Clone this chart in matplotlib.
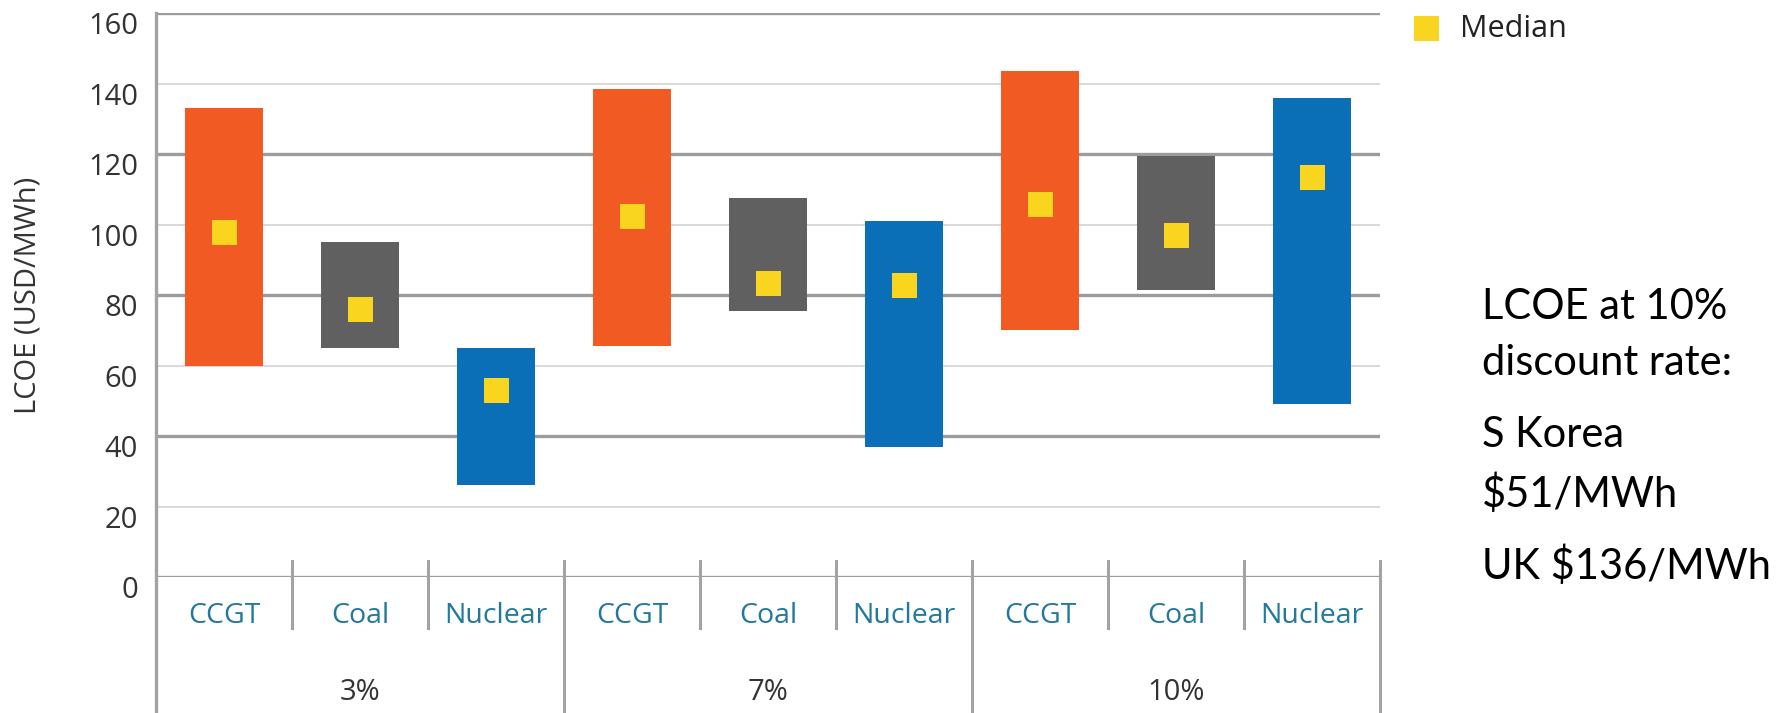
import matplotlib
matplotlib.use("Agg")
import matplotlib.pyplot as plt
import matplotlib.transforms as mtransforms
from matplotlib.lines import Line2D

# ---- data ----
rates = ["3%", "7%", "10%"]
techs = ["CCGT", "Coal", "Nuclear"]
low = [60, 65, 26, 65.5, 75.5, 37, 70, 81.5, 49]
high = [133, 95, 65, 138.5, 107.5, 101, 143.5, 119.5, 136]
median = [98, 76, 53, 102.5, 83.5, 83, 106, 97, 113.5]
yticks = [0, 20, 40, 60, 80, 100, 120, 140, 160]
notes = ["LCOE at 10%", "discount rate:", "S Korea", "$51/MWh", "UK $136/MWh"]

colors_by_tech = {"CCGT": "#F15A22", "Coal": "#606060", "Nuclear": "#0A6FB7"}
median_color = "#F9D51F"

plt.rcParams["font.family"] = ["Open Sans", "DejaVu Sans"]

W, H = 1785, 713
fig = plt.figure(figsize=(W / 100, H / 100), dpi=100)
ax_left, ax_right = 156, 1380
ax_top, ax_bot = 13.3, 577
ax = fig.add_axes([ax_left / W, 1 - ax_bot / H, (ax_right - ax_left) / W, (ax_bot - ax_top) / H])

n = len(rates) * len(techs)
xs = list(range(n))
cats = [t for r in rates for t in techs]
bar_colors = [colors_by_tech[c] for c in cats]

ax.set_xlim(-0.5, n - 0.5)
ax.set_ylim(0, 160)

# gridlines
for y in yticks:
    if y % 40 == 0:
        ax.axhline(y, color="#9c9c9c", lw=2.4, zorder=1)
    else:
        ax.axhline(y, color="#d6d6d6", lw=1.3, zorder=1)

heights = [h - l for h, l in zip(high, low)]
ax.bar(xs, heights, bottom=low, width=0.57, color=bar_colors, zorder=3)
ax.plot(xs, median, ls="", marker="s", markersize=18, color=median_color,
        markeredgewidth=0, zorder=4)

for s in ax.spines.values():
    s.set_visible(False)
ax.set_xticks([])
ax.set_yticks(yticks)
ax.set_yticklabels([str(v) for v in yticks], fontsize=21, color="#333333")
ax.tick_params(axis="y", length=0, pad=13)
off = mtransforms.ScaledTranslation(0, -10 / 100, fig.dpi_scale_trans)
for lab in ax.get_yticklabels():
    lab.set_transform(lab.get_transform() + off)

# category axis decoration
def yfrac(ypx):
    return (ax_bot - ypx) / (ax_bot - ax_top)

trans = mtransforms.blended_transform_factory(ax.transData, ax.transAxes)
sep_col = "#a3a3a3"
for i in range(1, n + 1):
    x = i - 0.5
    if i % 3 == 0:
        y0, y1 = yfrac(561), yfrac(713)
    else:
        y0, y1 = yfrac(561), yfrac(628)
    ax.add_line(Line2D([x, x], [y0, y1], transform=trans, color=sep_col, lw=2.2,
                       clip_on=False))
# left axis line
ax.add_line(Line2D([-0.5, -0.5], [1, yfrac(713)], transform=trans, color=sep_col, lw=2.4,
                   clip_on=False))

for x, c in zip(xs, cats):
    ax.text(x, yfrac(616), c, transform=trans, ha="center", va="center",
            fontsize=20.5, color="#23789E")
for g, r in enumerate(rates):
    ax.text(g * 3 + 1, yfrac(692), r, transform=trans, ha="center", va="center",
            fontsize=21, color="#333333")

# y label
fig.text(28 / W, 1 - 295 / H, "LCOE (USD/MWh)", rotation=90, ha="center", va="center",
         fontsize=21, color="#333333")

# legend
fig.add_artist(Line2D([1426 / W], [1 - 28 / H], transform=fig.transFigure, ls="",
                      marker="s", markersize=18, color=median_color, markeredgewidth=0))
fig.text(1460 / W, 1 - 29 / H, "Median", ha="left", va="center", fontsize=22,
         color="#222222")

# annotation
note_y = [307, 363, 435, 494, 566]
for t, yy in zip(notes, note_y):
    fig.text(1482 / W, 1 - yy / H, t, ha="left", va="center", fontsize=30,
             color="black", family=["Lato", "DejaVu Sans"])

fig.savefig("out.png", dpi=100)
